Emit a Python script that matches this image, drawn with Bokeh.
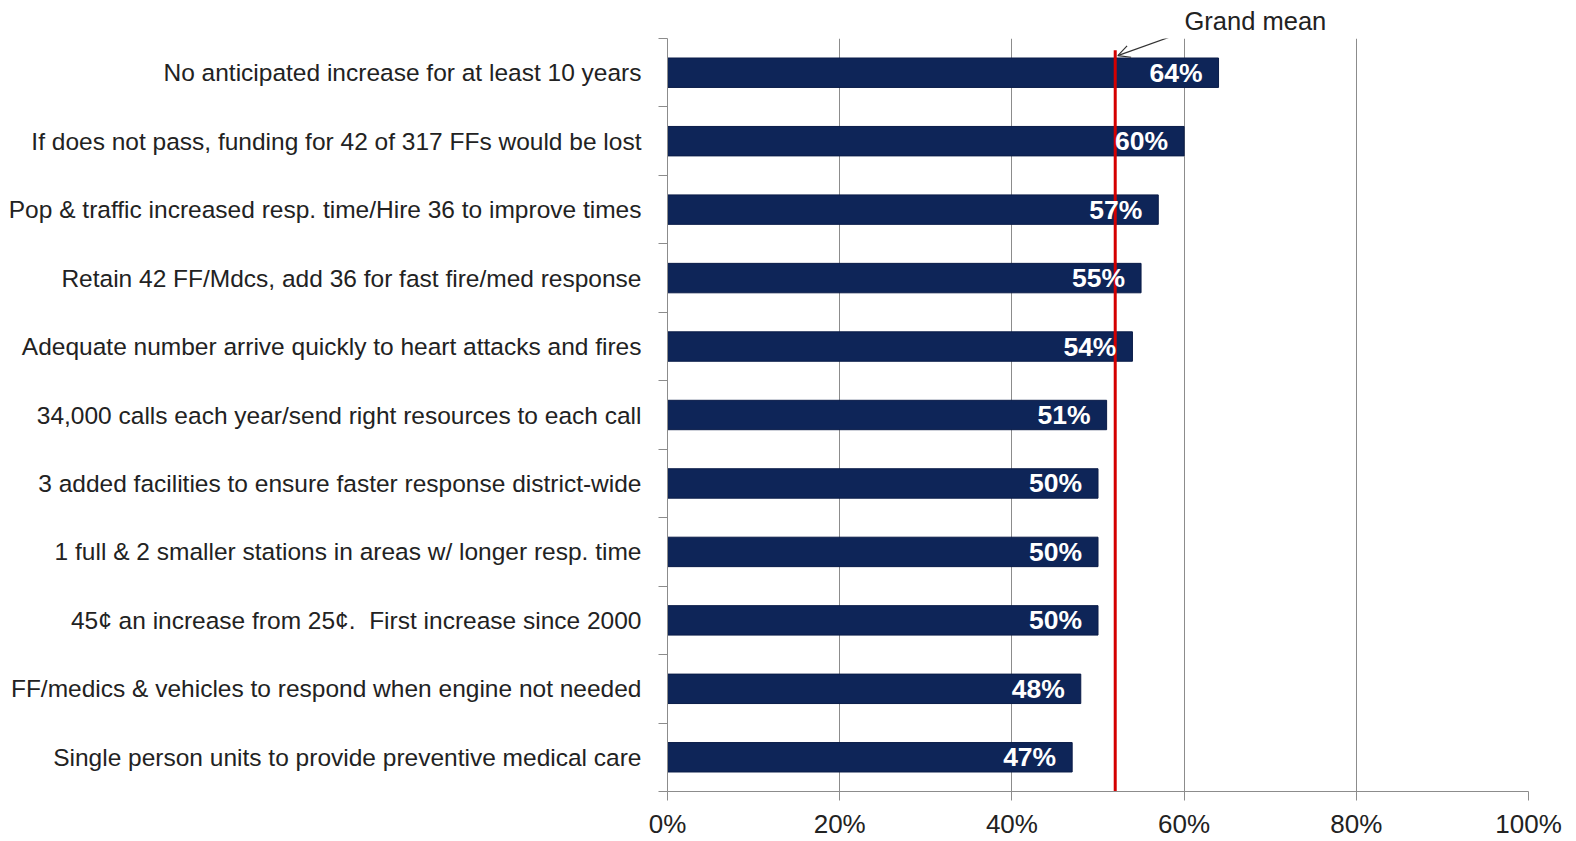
from bokeh.plotting import figure
from bokeh.models import (ColumnDataSource, Range1d, FixedTicker, NumeralTickFormatter,
                          Arrow, OpenHead, LabelSet, Title)
from bokeh.core.properties import value
from bokeh.embed import file_html
from bokeh.resources import INLINE

categories = [
    "No anticipated increase for at least 10 years",
    "If does not pass, funding for 42 of 317 FFs would be lost",
    "Pop & traffic increased resp. time/Hire 36 to improve times",
    "Retain 42 FF/Mdcs, add 36 for fast fire/med response",
    "Adequate number arrive quickly to heart attacks and fires",
    "34,000 calls each year/send right resources to each call",
    "3 added facilities to ensure faster response district-wide",
    "1 full & 2 smaller stations in areas w/ longer resp. time",
    "45\u00a2 an increase from 25\u00a2.\u00a0\u00a0First increase since 2000",
    "FF/medics & vehicles to respond when engine not needed",
    "Single person units to provide preventive medical care",
]
values = [0.64, 0.60, 0.57, 0.55, 0.54, 0.51, 0.50, 0.50, 0.50, 0.48, 0.47]
value_labels = ["64%", "60%", "57%", "55%", "54%", "51%", "50%", "50%", "50%", "48%", "47%"]
grand_mean = 0.52
x_ticks = [0, 0.2, 0.4, 0.6, 0.8, 1.0]

n = len(categories)
ypos = [n - 0.5 - i for i in range(n)]

FONT = "Liberation Sans"
GRAY = "#8c8c8c"
TEXT = "#222222"

p = figure(width=1576, height=841, output_backend="svg", toolbar_location=None, tools="",
           x_range=Range1d(0, 1), y_range=Range1d(0, n),
           min_border_left=667, min_border_right=48, min_border_top=38, min_border_bottom=43)
p.outline_line_color = None
p.background_fill_color = "white"

# "Grand mean" annotation text as the figure title
t = Title(text="Grand mean", align="left", offset=517, standoff=8,
          text_font=FONT, text_font_size="25.5px", text_font_style="normal",
          text_color=TEXT)
p.add_layout(t, "above")

src = ColumnDataSource(dict(y=ypos, right=values, lab=value_labels, cat=categories))
p.hbar(y="y", right="right", left=0, height=0.43, source=src,
       fill_color="#0e2558", line_color="#0a1c48", line_width=1)

labels = LabelSet(x="right", y="y", text="lab", source=src, x_offset=-16,
                  text_align="right", text_baseline="middle", text_color="white",
                  text_font=value(FONT), text_font_size=value("26.5px"),
                  text_font_style="bold")
p.add_layout(labels)

# grand mean line
p.segment(x0=[grand_mean], y0=[0], x1=[grand_mean], y1=[n - 0.17],
          line_color="#d40000", line_width=3)

# x axis
p.xaxis.ticker = FixedTicker(ticks=x_ticks)
p.xaxis.formatter = NumeralTickFormatter(format="0%")
p.xaxis.axis_line_color = GRAY
p.xaxis.major_tick_line_color = GRAY
p.xaxis.major_tick_out = 9
p.xaxis.major_tick_in = 0
p.xaxis.minor_tick_line_color = None
p.xaxis.minor_tick_out = 0
p.xaxis.major_label_standoff = 8
p.xaxis.major_label_text_font = FONT
p.xaxis.major_label_text_font_size = "26px"
p.xaxis.major_label_text_color = TEXT

p.xgrid.ticker = FixedTicker(ticks=x_ticks)
p.xgrid.grid_line_color = GRAY
p.xgrid.grid_line_width = 1
p.ygrid.visible = False

# y axis
p.yaxis.ticker = FixedTicker(ticks=ypos, minor_ticks=list(range(n + 1)))
p.yaxis.major_label_overrides = {y: c for y, c in zip(ypos, categories)}
p.yaxis.axis_line_color = GRAY
p.yaxis.major_tick_line_color = None
p.yaxis.major_tick_out = 0
p.yaxis.major_tick_in = 0
p.yaxis.minor_tick_line_color = GRAY
p.yaxis.minor_tick_out = 9
p.yaxis.minor_tick_in = 0
p.yaxis.major_label_standoff = 17
p.yaxis.major_label_text_font = FONT
p.yaxis.major_label_text_font_size = "24.5px"
p.yaxis.major_label_text_color = TEXT

# arrow from the annotation text to the grand mean line
p.add_layout(Arrow(x_start=0.598, y_start=n + 0.087, x_end=grand_mean + 0.003, y_end=n - 0.25,
                   line_color="#333333", line_width=1.2,
                   end=OpenHead(size=12, line_color="#333333", line_width=1.2)))

open("out.html", "w").write(file_html(p, INLINE))
